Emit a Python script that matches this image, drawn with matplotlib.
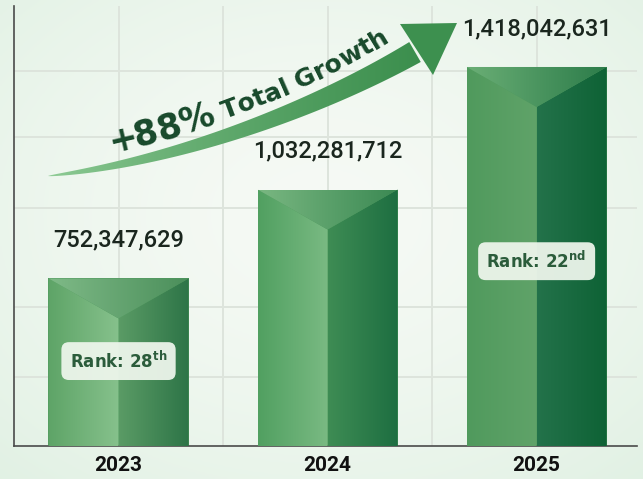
import numpy as np
import matplotlib
matplotlib.use('Agg')
import matplotlib.pyplot as plt
from matplotlib.colors import to_rgb
from matplotlib.patches import Polygon
from matplotlib.transforms import blended_transform_factory
from matplotlib.font_manager import FontProperties, findfont, get_font

# data
years = ['2023', '2024', '2025']
population = [752347629, 1032281712, 1418042631]
ranks = [28, None, 22]
growth_pct = '+88%'
growth_text = ' Total Growth'

# per bar: left face, right face, top facet (each as left -> right colours)
face_colors = [
    (('#5ea467', '#86c18c'), ('#5a9b65', '#2d7447'), ('#7fba87', '#4b8f5b')),
    (('#51a061', '#7aba83'), ('#3e8c54', '#1d6e41'), ('#79b781', '#3b8953')),
    (('#509a5d', '#60a369'), ('#23724a', '#0e6235'), ('#6aae75', '#2c7c4a')),
]
rank_y = [0.193, None, 0.42]   # axes fraction for the rank badges

W, H = 643, 479
fig = plt.figure(figsize=(W / 100, H / 100), dpi=100)

# soft mint background
bg = fig.add_axes([0, 0, 1, 1], zorder=0)
yy, xx = np.mgrid[0:1:200j, 0:1:260j]
r = np.clip(np.sqrt(((xx - 0.5) / 0.8) ** 2 + ((yy - 0.45) / 0.8) ** 2), 0, 1)
c0, c1 = np.array(to_rgb('#f6faf5')), np.array(to_rgb('#dff0e2'))
bg.imshow(c0 + (c1 - c0) * r[..., None] ** 1.5, extent=[0, 1, 0, 1], aspect='auto')
bg.axis('off')

ax = fig.add_axes([14 / W, 33 / H, 623 / W, 440 / H], zorder=1)
ax.patch.set_visible(False)
x = np.arange(len(years))
bars = ax.bar(x, population, width=0.67, color='#4f9a5d', zorder=2)

ylo, yhi = 2.25e8, 1.61e9
depth = 40 / 440 * (yhi - ylo)   # height of the top chevron


def shade(verts, c_from, c_to, z):
    poly = Polygon(verts, closed=True, facecolor='none', edgecolor='none')
    ax.add_patch(poly)
    xs = [v[0] for v in verts]
    ys = [v[1] for v in verts]
    g = np.linspace(0, 1, 64)[:, None]
    ca, cb = np.array(to_rgb(c_from)), np.array(to_rgb(c_to))
    im = ax.imshow((ca + (cb - ca) * g)[None, :, :], aspect='auto',
                   extent=[min(xs), max(xs), min(ys), max(ys)],
                   interpolation='bilinear', zorder=z)
    im.set_clip_path(poly)


for b, (lf, rf, tf) in zip(bars, face_colors):
    x0, w, top = b.get_x(), b.get_width(), b.get_height()
    x1, xc = x0 + w, x0 + w / 2
    v = top - depth
    shade([(x0, ylo), (x0, top), (xc, v), (xc, ylo)], *lf, 3)
    shade([(xc, ylo), (xc, v), (x1, top), (x1, ylo)], *rf, 3)
    shade([(x0, top), (x1, top), (xc, v)], *tf, 3)

# value labels above the bars
for b, val in zip(bars, population):
    ax.annotate(f'{val:,}', xy=(b.get_x() + b.get_width() / 2, val),
                xytext=(0, 32), textcoords='offset pixels', ha='center',
                va='baseline', fontsize=17, family='Roboto', weight='medium',
                color='#1a261e', zorder=5)

# rank badges
trans = blended_transform_factory(ax.transData, ax.transAxes)
for xi, rk, ry in zip(x, ranks, rank_y):
    if rk is None:
        continue
    suf = {1: 'st', 2: 'nd', 3: 'rd'}.get(rk % 10, 'th')
    ax.text(xi, ry, f'Rank: {rk}$^{{\\mathbf{{{suf}}}}}$', transform=trans,
            ha='center', va='center', fontsize=12, weight='bold',
            color='#2b5c3b', zorder=6,
            bbox=dict(boxstyle='round,pad=0.5,rounding_size=0.45',
                      fc='#eef6ec', ec='none', alpha=0.94))

ax.set_xlim(-0.5, 2.48)
ax.set_ylim(ylo, yhi)
ax.set_xticks(x, years)
ax.set_xticks([0.5, 1.5], minor=True)
ax.set_yticks([])
for fr in [0.157, 0.316, 0.541, 0.702, 0.852]:
    ax.plot([0, 1], [fr, fr], transform=ax.transAxes, color='#dde4dc',
            lw=1.4, zorder=1)
ax.grid(axis='x', which='both', color='#dde4dc', lw=1.4, zorder=1)
ax.set_axisbelow(True)
ax.tick_params(axis='x', which='both', length=0, pad=7)
for lab in ax.get_xticklabels():
    lab.set_fontfamily('Roboto')
    lab.set_fontweight('bold')
    lab.set_fontsize(15)
    lab.set_color('#111111')
for s in ['top', 'right']:
    ax.spines[s].set_visible(False)
for s in ['left', 'bottom']:
    ax.spines[s].set_color('#4a4a4a')
    ax.spines[s].set_linewidth(1.2)

# growth arrow, drawn in pixel space
ov = fig.add_axes([0, 0, 1, 1], zorder=3)
ov.set_xlim(0, W)
ov.set_ylim(H, 0)
ov.axis('off')


def bez(p, t):
    p = np.asarray(p, float)
    t = np.asarray(t, float)[:, None]
    return ((1 - t) ** 3 * p[0] + 3 * (1 - t) ** 2 * t * p[1]
            + 3 * (1 - t) * t ** 2 * p[2] + t ** 3 * p[3])


band = [(48, 176), (179, 161.4), (320, 107), (415, 52)]
ts = np.linspace(0, 1, 300)
c = bez(band, ts)
d = np.gradient(c, axis=0)
n = np.stack([-d[:, 1], d[:, 0]], axis=1)
n /= np.linalg.norm(n, axis=1)[:, None]
hw = 11.5 * ts ** 0.65
verts = np.vstack([c + n * hw[:, None], (c - n * hw[:, None])[::-1]])
band_poly = Polygon(verts, closed=True, fc='none', ec='none')
ov.add_patch(band_poly)
g = np.linspace(0, 1, 128)[:, None] ** 0.7
ca, cb = np.array(to_rgb('#93cf99')), np.array(to_rgb('#3b8e4d'))
im = ov.imshow((ca + (cb - ca) * g)[None, :, :], aspect='auto',
               extent=[45, 425, 190, 30], interpolation='bilinear', zorder=2)
im.set_clip_path(band_poly)
ov.add_patch(Polygon([(400, 24), (457, 23), (433, 75)], closed=True,
                     fc='#3d904f', ec='none', zorder=3))

# label running along the arrow
base = [(113, 152), (205, 132), (317, 88), (394, 38)]
tb = np.linspace(0, 1, 1000)
pb = bez(base, tb)
arc = np.concatenate([[0], np.cumsum(np.linalg.norm(np.diff(pb, axis=0), axis=1))])
prop = FontProperties(family='DejaVu Sans', weight='bold')
font = get_font(findfont(prop))
pos = 0.0
for part, size in [(growth_pct, 25), (growth_text, 18)]:
    font.set_size(size, 100)
    for ch in part:
        adv = font.load_char(ord(ch)).linearHoriAdvance / 65536
        if ch == '+':
            adv *= 0.85
        t = np.interp(pos + adv / 2, arc, tb)
        px, py = bez(base, [t])[0]
        dx, dy = bez(base, [min(t + 1e-3, 1)])[0] - bez(base, [max(t - 1e-3, 0)])[0]
        ang = np.degrees(np.arctan2(-dy, dx))
        ov.text(px, py, ch, fontproperties=prop, fontsize=size,
                color='#18492b', ha='center', va='baseline', rotation=ang,
                rotation_mode='anchor', zorder=4)
        pos += adv

fig.savefig('out.png', dpi=100)
